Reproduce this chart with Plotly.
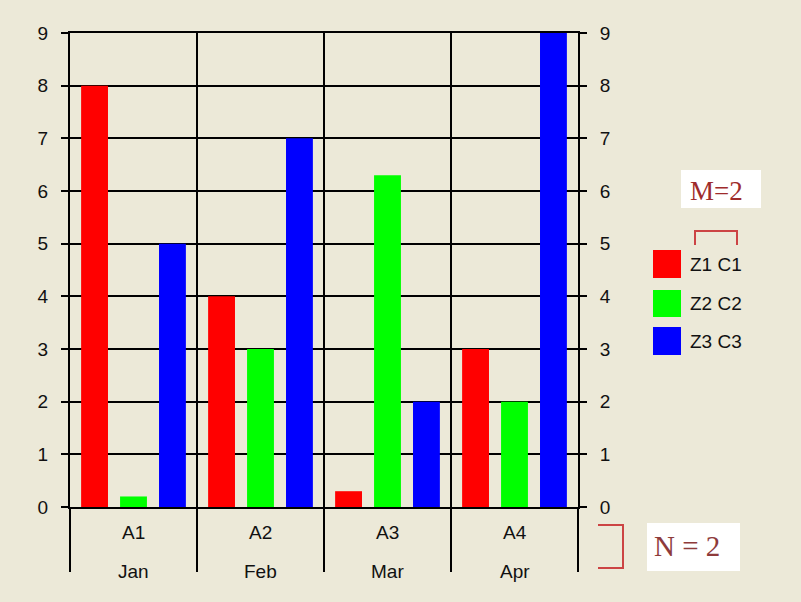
import plotly.graph_objects as go

categories = ["A1", "A2", "A3", "A4"]
months = ["Jan", "Feb", "Mar", "Apr"]
series_names = ["Z1 C1", "Z2 C2", "Z3 C3"]
series_values = {
    "Z1 C1": [8, 4, 0.3, 3],
    "Z2 C2": [0.2, 3, 6.3, 2],
    "Z3 C3": [5, 7, 2, 9],
}
colors = ["#FF0000", "#00FF00", "#0000FF"]
y_ticks = list(range(0, 10))

W, H = 801, 602
L, R, T, B = 70, 578, 33, 507  # plot area in pixels
FONT = "Liberation Sans"
FS = 19

def px(x):
    return (x - L) / (R - L)

def py(y):
    return (B - y) / (B - T)

fig = go.Figure()
for name, c in zip(series_names, colors):
    fig.add_trace(go.Bar(x=categories, y=series_values[name], name=name,
                         marker=dict(color=c, line=dict(width=0)), showlegend=False))
fig.add_trace(go.Scatter(x=[categories[0]], y=[0], yaxis="y2", mode="markers",
                         marker=dict(opacity=0), showlegend=False, hoverinfo="skip"))

annotations = []
for cat, m in zip(categories, months):
    annotations.append(dict(x=cat, xref="x", y=py(532), yref="paper", text=cat,
                            showarrow=False, font=dict(family=FONT, size=FS, color="#111"),
                            xanchor="center", yanchor="middle"))
    annotations.append(dict(x=cat, xref="x", y=py(571), yref="paper", text=m,
                            showarrow=False, font=dict(family=FONT, size=FS, color="#111"),
                            xanchor="center", yanchor="middle"))

shapes = []
legend_rows = [(250, 278), (290, 317), (327, 355)]
for (y0, y1), name, c in zip(legend_rows, series_names, colors):
    shapes.append(dict(type="rect", xref="paper", yref="paper", x0=px(653), x1=px(681),
                       y0=py(y1), y1=py(y0), fillcolor=c, line=dict(width=0)))
    annotations.append(dict(x=px(688), y=py((y0 + y1) / 2), xref="paper", yref="paper",
                            text=name, showarrow=False, xanchor="left", yanchor="middle",
                            font=dict(family=FONT, size=FS, color="#111")))

bracket = "#CC4444"
shapes.append(dict(type="rect", xref="paper", yref="paper", x0=px(681), x1=px(761),
                   y0=py(208), y1=py(170), fillcolor="#FFFFFF", line=dict(width=0)))
annotations.append(dict(x=px(716), y=py(191), xref="paper", yref="paper", text="M=2",
                        showarrow=False, xanchor="center", yanchor="middle",
                        font=dict(family="Liberation Serif", size=27, color="#9E2B2B")))
shapes.append(dict(type="path", xref="paper", yref="paper",
                   path=f"M {px(695)} {py(245)} L {px(695)} {py(231)} L {px(737)} {py(231)} L {px(737)} {py(245)}",
                   line=dict(color=bracket, width=2)))
shapes.append(dict(type="rect", xref="paper", yref="paper", x0=px(647), x1=px(740),
                   y0=py(571), y1=py(523), fillcolor="#FFFFFF", line=dict(width=0)))
annotations.append(dict(x=px(687), y=py(546), xref="paper", yref="paper", text="N = 2",
                        showarrow=False, xanchor="center", yanchor="middle",
                        font=dict(family="Liberation Serif", size=29, color="#8E3B3B")))
shapes.append(dict(type="path", xref="paper", yref="paper",
                   path=f"M {px(598)} {py(525)} L {px(623)} {py(525)} L {px(623)} {py(568)} L {px(598)} {py(568)}",
                   line=dict(color=bracket, width=2)))

fig.update_layout(
    width=W, height=H,
    margin=dict(l=L, r=W - R, t=T, b=H - B, pad=0),
    paper_bgcolor="#ECE9D8", plot_bgcolor="#ECE9D8",
    barmode="group", bargap=0.08, bargroupgap=0.31,
    showlegend=False,
    xaxis=dict(type="category", tickson="boundaries", showgrid=True, gridcolor="#000",
               gridwidth=2, ticks="outside", ticklen=63, tickwidth=2, tickcolor="#000",
               showticklabels=False, showline=True, linecolor="#000", linewidth=2,
               mirror=True, zeroline=False, range=[-0.5, 3.5]),
    yaxis=dict(range=[0, 9], tickvals=y_ticks, showgrid=True, gridcolor="#000", gridwidth=2,
               ticks="outside", ticklen=7, tickwidth=2, tickcolor="#000",
               showline=True, linecolor="#000", linewidth=2, zeroline=False,
               tickfont=dict(family=FONT, size=FS, color="#111"), ticklabelstandoff=9),
    yaxis2=dict(range=[0, 9], tickvals=y_ticks, overlaying="y", side="right", showgrid=False,
                ticks="outside", ticklen=7, tickwidth=2, tickcolor="#000",
                showline=True, linecolor="#000", linewidth=2, zeroline=False,
                tickfont=dict(family=FONT, size=FS, color="#111"), ticklabelstandoff=9),
    shapes=shapes, annotations=annotations,
)

fig.write_html("out.html", config={"displayModeBar": False},
               post_script="document.body.style.margin='0';document.body.style.background='#ECE9D8';")
